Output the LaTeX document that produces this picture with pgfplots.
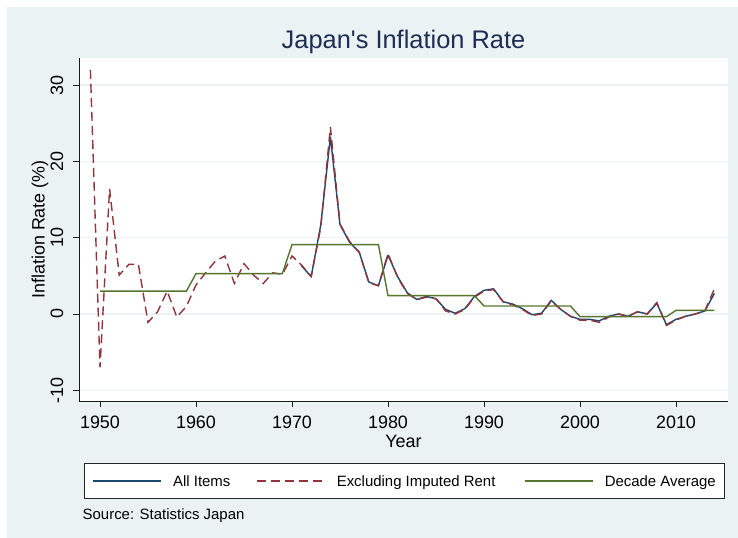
\documentclass[border=0pt]{standalone}
\usepackage{pgfplots}
\pgfplotsset{compat=1.18}
\usepackage{fontspec}
\setmainfont{Liberation Sans}
\definecolor{bgc}{HTML}{EAF2F3}
\definecolor{gridc}{HTML}{EAF2F3}
\definecolor{navy}{HTML}{1A476F}
\definecolor{maroon}{HTML}{90353B}
\definecolor{forest}{HTML}{55752F}
\definecolor{titlec}{HTML}{1E2D53}
\pgfplotsset{
  legA/.style={legend image code/.code={\draw[##1] (0bp,0bp) -- (68bp,0bp); \path (79bp,0bp);}},
  legB/.style={legend image code/.code={\path (-26bp,0bp); \draw[##1] (0bp,0bp) -- (70bp,0bp); \path (79bp,0bp);}},
  legC/.style={legend image code/.code={\path (-28.9bp,0bp); \draw[##1] (0bp,0bp) -- (68bp,0bp); \path (79bp,0bp);}},
}
\begin{document}
\begin{tikzpicture}[x=1bp,y=1bp]
\useasboundingbox (0,0) rectangle (738,538);
\fill[white] (0,0) rectangle (738,538);
\fill[bgc] (7,0) rectangle (738,531);
\begin{axis}[
  at={(79bp,137bp)}, anchor=south west,
  scale only axis, width=649bp, height=343bp,
  xmin=1947.8125, xmax=2015.417, ymin=-11.40, ymax=33.55,
  axis x line*=bottom, axis y line*=left,
  axis line style={-, draw=black!90, line width=0.8bp},
  axis background/.style={fill=white},
  xtick={1950,1960,1970,1980,1990,2000,2010},
  xticklabels={1950,1960,1970,1980,1990,2000,2010},
  ytick={-10,0,10,20,30}, yticklabels={-10,0,10,20,30},
  tick align=outside, major tick length=6bp,
  tick style={draw=black!90, line width=0.8bp},
  ymajorgrids, major grid style={draw=gridc, line width=1.2bp},
  xticklabel style={font=\fontsize{18}{18}\selectfont, anchor=base, inner sep=0pt},
  xticklabel shift=22bp,
  yticklabel style={font=\fontsize{18}{18}\selectfont, rotate=90, anchor=base, inner sep=0pt},
  yticklabel shift=10bp,
  legend columns=3,
  legend cell align=left,
  legend style={at={(axis description cs:0.0077,-0.1799)}, anchor=north west,
    draw=black!85, line width=0.8bp, fill=white, inner xsep=8.3bp, inner ysep=10.2bp,
    column sep=0pt, font=\fontsize{15}{15}\selectfont,
    nodes={inner sep=0pt, text height=13bp, text depth=2.2bp}},
]
\addplot[navy, line width=1.4bp, mark=none, line join=round, legA]
coordinates {
(1971,6.3)(1972,4.9)(1973,11.7)(1974,23.2)(1975,11.7)(1976,9.4)(1977,8.1)(1978,4.2)(1979,3.7)
(1980,7.7)(1981,4.9)(1982,2.8)(1983,1.9)(1984,2.3)(1985,2.0)(1986,0.6)(1987,0.1)(1988,0.7)(1989,2.3)
(1990,3.1)(1991,3.3)(1992,1.6)(1993,1.3)(1994,0.7)(1995,-0.1)(1996,0.1)(1997,1.8)(1998,0.6)(1999,-0.3)
(2000,-0.7)(2001,-0.7)(2002,-0.9)(2003,-0.3)(2004,0.0)(2005,-0.3)(2006,0.3)(2007,0.0)(2008,1.4)(2009,-1.4)
(2010,-0.7)(2011,-0.3)(2012,0.0)(2013,0.4)(2014,2.7)
};
\addlegendentry{All Items}
\addplot[maroon, line width=1.4bp, mark=none, dash pattern=on 9bp off 5bp, legB]
coordinates {
(1949,32.0)(1950,-7.0)(1951,16.4)(1952,5.1)(1953,6.5)(1954,6.5)(1955,-1.1)(1956,0.3)(1957,3.0)(1958,-0.4)(1959,1.0)
(1960,3.8)(1961,5.4)(1962,6.9)(1963,7.6)(1964,4.0)(1965,6.6)(1966,5.1)(1967,4.0)(1968,5.4)(1969,5.2)
(1970,7.6)(1971,6.4)(1972,4.9)(1973,11.4)(1974,24.5)(1975,11.8)(1976,9.5)(1977,8.1)(1978,4.1)(1979,3.7)
(1980,7.9)(1981,4.8)(1982,2.7)(1983,1.9)(1984,2.2)(1985,2.0)(1986,0.4)(1987,0.0)(1988,0.6)(1989,2.2)
(1990,3.0)(1991,3.2)(1992,1.6)(1993,1.2)(1994,0.6)(1995,-0.2)(1996,0.0)(1997,1.7)(1998,0.6)(1999,-0.3)
(2000,-0.8)(2001,-0.8)(2002,-1.1)(2003,-0.4)(2004,0.0)(2005,-0.3)(2006,0.3)(2007,0.0)(2008,1.5)(2009,-1.5)
(2010,-0.8)(2011,-0.3)(2012,0.0)(2013,0.4)(2014,3.3)
};
\addlegendentry{Excluding Imputed Rent}
\addplot[forest, line width=1.4bp, mark=none, legC]
coordinates {
(1950,3.0)(1951,3.0)(1952,3.0)(1953,3.0)(1954,3.0)(1955,3.0)(1956,3.0)(1957,3.0)(1958,3.0)(1959,3.0)
(1960,5.3)(1961,5.3)(1962,5.3)(1963,5.3)(1964,5.3)(1965,5.3)(1966,5.3)(1967,5.3)(1968,5.3)(1969,5.3)
(1970,9.1)(1971,9.1)(1972,9.1)(1973,9.1)(1974,9.1)(1975,9.1)(1976,9.1)(1977,9.1)(1978,9.1)(1979,9.1)
(1980,2.4)(1981,2.4)(1982,2.4)(1983,2.4)(1984,2.4)(1985,2.4)(1986,2.4)(1987,2.4)(1988,2.4)(1989,2.4)
(1990,1.05)(1991,1.05)(1992,1.05)(1993,1.05)(1994,1.05)(1995,1.05)(1996,1.05)(1997,1.05)(1998,1.05)(1999,1.05)
(2000,-0.35)(2001,-0.35)(2002,-0.35)(2003,-0.35)(2004,-0.35)(2005,-0.35)(2006,-0.35)(2007,-0.35)(2008,-0.35)(2009,-0.35)
(2010,0.48)(2011,0.48)(2012,0.48)(2013,0.48)(2014,0.48)
};
\addlegendentry{Decade Average}
\end{axis}
\node[anchor=base, text=titlec, font=\fontsize{25.5}{25.5}\selectfont, inner sep=0pt] at (403.5,489.7) {Japan\textquotesingle s Inflation Rate};
\node[anchor=base, font=\fontsize{18}{18}\selectfont, inner sep=0pt] at (403.5,90) {Year};
\node[anchor=base, rotate=90, font=\fontsize{18}{18}\selectfont, inner sep=0pt] at (44.5,308.5) {Inflation Rate (\%)};
\node[anchor=base west, font=\fontsize{15}{15}\selectfont, inner sep=0pt] at (82.5,18) {Source: Statistics Japan};
\end{tikzpicture}
\end{document}
